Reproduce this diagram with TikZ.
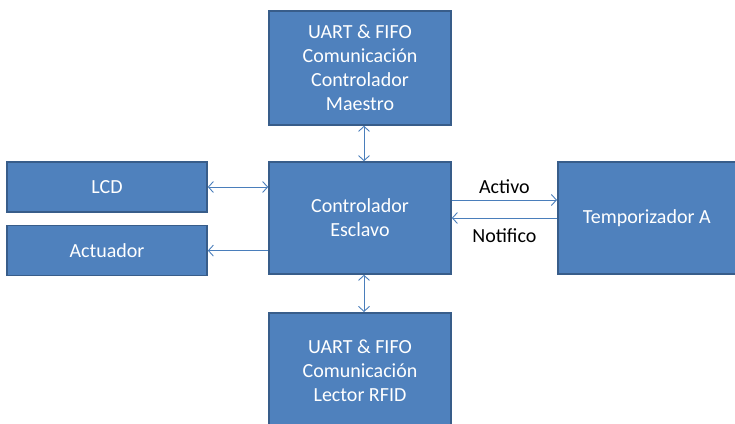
\documentclass[tikz,border=0pt]{standalone}
\usepackage{fontspec}
\setmainfont{Carlito}
\usepackage{tikz}
\usetikzlibrary{arrows.meta,positioning,calc}
\definecolor{blkfill}{HTML}{4F81BD}
\definecolor{blkedge}{HTML}{385D8A}
\definecolor{lnkblue}{HTML}{4A7EBB}

\begin{document}
\begin{tikzpicture}[
  x=1pt, y=1pt,
  >={Straight Barb[length=5pt,width=11pt]},
  every node/.style={font=\fontsize{20}{24}\selectfont},
  blk/.style={draw=blkedge,line width=1.6pt,fill=blkfill,text=white,align=center,inner sep=0pt},
  lnk/.style={lnkblue,line width=0.9pt},
  lbl/.style={text=black}
]
\useasboundingbox (0,0) rectangle (735,423);
\node[blk,minimum width=182pt,minimum height=112pt] (ctrl) at (360,205) {Controlador\\Esclavo};
\node[blk,minimum width=182pt,minimum height=114pt] (uartm) at (360,355) {UART \& FIFO\\Comunicación\\Controlador\\Maestro};
\node[blk,minimum width=182pt,minimum height=116pt,anchor=north] (uartr) at (360,111) {UART \& FIFO\\Comunicación\\Lector RFID};
\node[blk,minimum width=200pt,minimum height=50pt] (lcd) at (107,236) {LCD};
\node[blk,minimum width=200pt,minimum height=50pt,below=12pt of lcd] (act) {Actuador};
\node[blk,minimum width=190pt,minimum height=112pt,anchor=west] (temp) at (557,205) {Temporizador A\hspace*{12pt}};

\draw[<->,lnk] (lcd.east) -- (lcd.east -| ctrl.west);
\draw[->,lnk] (ctrl.west |- act.east) -- (act.east);
\draw[<->,lnk] ($(uartm.south)+(4,0)$) -- ($(ctrl.north)+(4,0)$);
\draw[<->,lnk] ($(ctrl.south)+(4,0)$) -- ($(uartr.north)+(4,0)$);
\draw[->,lnk] ($(ctrl.east)+(0,18)$) -- ($(temp.west)+(0,18)$) node[lbl,midway,above=3pt] {Activo};
\draw[->,lnk] (temp.west) -- (ctrl.east) node[lbl,midway,below=7pt] {Notifico};
\end{tikzpicture}
\end{document}
